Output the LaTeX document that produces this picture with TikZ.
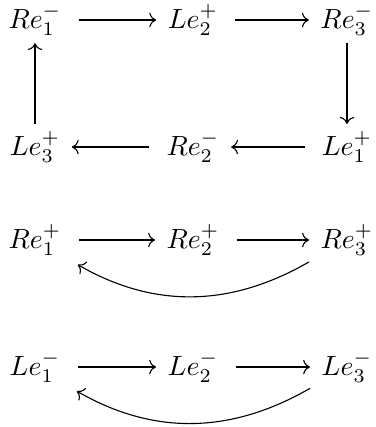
\documentclass[tikz,border=0pt]{standalone}
\usetikzlibrary{arrows.meta}
\begin{document}
\begin{tikzpicture}[x=0.36pt, y=-0.36pt,
  elem/.style = {inner xsep=4pt, inner ysep=2.5pt},
  map/.style  = {->},
  row/.style  = {map, shorten <=2pt},
  back/.style = {map, bend left=30, shorten >=2pt}
]
\useasboundingbox (0,0) rectangle (376,427);

% Cycle
\node[elem] (re1m) at (35, 20)  {$Re_1^-$};
\node[elem] (le2p) at (193, 20) {$Le_2^+$};
\node[elem] (re3m) at (347, 20) {$Re_3^-$};
\node[elem] (le3p) at (35, 147)  {$Le_3^+$};
\node[elem] (re2m) at (193, 147) {$Re_2^-$};
\node[elem] (le1p) at (347, 147) {$Le_1^+$};

\draw[row] (re1m) -- (le2p);
\draw[row] (le2p) -- (re3m);
\draw[map] (re3m) -- (le1p);
\draw[row] (le1p) -- (re2m);
\draw[row] (re2m) -- (le3p);
\draw[map] (le3p) -- (re1m);

% Re^+ chain
\node[elem] (re1p) at (35, 240)  {$Re_1^+$};
\node[elem] (re2p) at (193, 240) {$Re_2^+$};
\node[elem] (re3p) at (347, 240) {$Re_3^+$};

\draw[row] (re1p) -- (re2p);
\draw[row] (re2p) -- (re3p);
\draw[back] (re3p) to (re1p);

% Le^- chain
\node[elem] (le1m) at (35, 367)  {$Le_1^-$};
\node[elem] (le2m) at (193, 367) {$Le_2^-$};
\node[elem] (le3m) at (347, 367) {$Le_3^-$};

\draw[row] (le1m) -- (le2m);
\draw[row] (le2m) -- (le3m);
\draw[back] (le3m) to (le1m);
\end{tikzpicture}
\end{document}
